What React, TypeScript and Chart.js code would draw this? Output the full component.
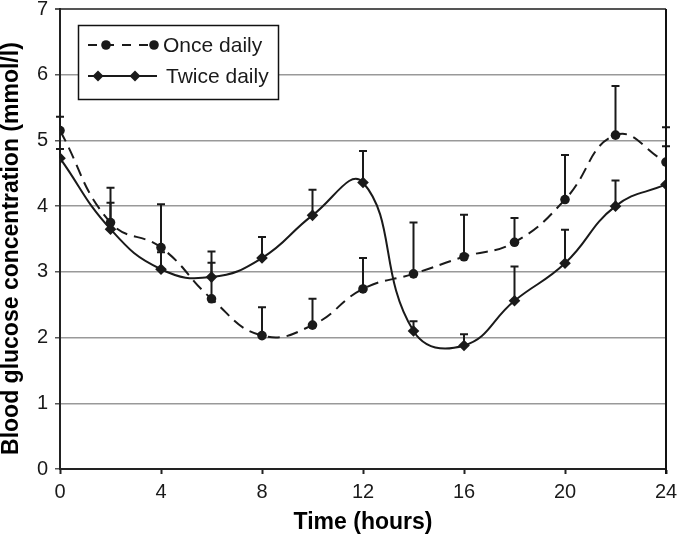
import { useEffect, useRef } from "react";
import { Chart, registerables } from "chart.js";

Chart.register(...registerables);

// Time points (hours)
const hours = [0, 2, 4, 6, 8, 10, 12, 14, 16, 18, 20, 22, 24];
// Once daily: mean and SD (upward error bars)
const onceMean = [5.15, 3.75, 3.37, 2.59, 2.03, 2.19, 2.74, 2.97, 3.23, 3.45, 4.1, 5.08, 4.67];
const onceSD = [0.21, 0.53, 0.66, 0.72, 0.43, 0.4, 0.47, 0.78, 0.64, 0.37, 0.68, 0.75, 0.53];
// Twice daily: mean and SD
const twiceMean = [4.73, 3.65, 3.04, 2.92, 3.21, 3.86, 4.36, 2.1, 1.88, 2.56, 3.13, 4.0, 4.33];
const twiceSD = [0.14, 0.4, 0.26, 0.22, 0.32, 0.39, 0.48, 0.15, 0.17, 0.52, 0.51, 0.39, 0.58];

const seriesNames = ["Once daily", "Twice daily"];
const xTitle = "Time (hours)";
const yTitle = "Blood glucose concentration (mmol/l)";

const FONT = "'Liberation Sans', Arial, sans-serif";
const INK = "#1a1a1a";

export default function App() {
  const ref = useRef<HTMLCanvasElement>(null);

  useEffect(() => {
    document.body.style.margin = "0";
    const canvas = ref.current;
    if (!canvas) return;

    const errorBars = {
      id: "errorBars",
      beforeDatasetsDraw(chart: any) {
        const { ctx, scales } = chart;
        const x = scales.x;
        const y = scales.y;
        ctx.save();
        ctx.strokeStyle = INK;
        ctx.lineWidth = 2;
        ctx.setLineDash([]);
        const sets: [number[], number[]][] = [
          [onceMean, onceSD],
          [twiceMean, twiceSD],
        ];
        sets.forEach(([means, sds]) => {
          means.forEach((m, i) => {
            const px = x.getPixelForValue(hours[i]);
            const p0 = y.getPixelForValue(m);
            const p1 = y.getPixelForValue(m + sds[i]);
            ctx.beginPath();
            ctx.moveTo(px, p0);
            ctx.lineTo(px, p1);
            ctx.moveTo(px - 4, p1);
            ctx.lineTo(px + 4, p1);
            ctx.stroke();
          });
        });
        ctx.restore();
      },
    };

    const frame = {
      id: "frame",
      afterDatasetsDraw(chart: any) {
        const { ctx, chartArea: a } = chart;
        ctx.save();
        ctx.setLineDash([]);
        ctx.strokeStyle = "#111";
        ctx.lineWidth = 2;
        ctx.beginPath();
        ctx.moveTo(a.right, a.top);
        ctx.lineTo(a.right, a.bottom + 5);
        ctx.stroke();
        ctx.restore();
      },
    };

    const legendBox = {
      id: "legendBox",
      afterDraw(chart: any) {
        const { ctx, chartArea: a } = chart;
        const L = a.left;
        const T = a.top;
        ctx.save();
        ctx.fillStyle = "#fff";
        ctx.fillRect(L + 18, T + 16, 200, 74);
        ctx.strokeStyle = "#111";
        ctx.lineWidth = 1.5;
        ctx.strokeRect(L + 18.5, T + 16.5, 200, 74);

        ctx.strokeStyle = INK;
        ctx.fillStyle = INK;
        ctx.lineWidth = 2;
        // Once daily
        const y1 = T + 36;
        ctx.setLineDash([9, 8]);
        ctx.beginPath();
        ctx.moveTo(L + 28, y1);
        ctx.lineTo(L + 97, y1);
        ctx.stroke();
        ctx.setLineDash([]);
        [L + 46, L + 94].forEach((cx) => {
          ctx.beginPath();
          ctx.arc(cx, y1, 4.8, 0, Math.PI * 2);
          ctx.fill();
        });
        // Twice daily
        const y2 = T + 67;
        ctx.beginPath();
        ctx.moveTo(L + 28, y2);
        ctx.lineTo(L + 97, y2);
        ctx.stroke();
        [L + 38, L + 75].forEach((cx) => {
          ctx.beginPath();
          ctx.moveTo(cx, y2 - 5.5);
          ctx.lineTo(cx + 5.5, y2);
          ctx.lineTo(cx, y2 + 5.5);
          ctx.lineTo(cx - 5.5, y2);
          ctx.closePath();
          ctx.fill();
        });

        ctx.font = `21px ${FONT}`;
        ctx.textBaseline = "middle";
        ctx.textAlign = "left";
        ctx.fillText(seriesNames[0], L + 103, y1 + 1);
        ctx.fillText(seriesNames[1], L + 106, y2 + 1);
        ctx.restore();
      },
    };

    const chart = new Chart(canvas, {
      type: "line",
      data: {
        datasets: [
          {
            label: seriesNames[0],
            data: hours.map((h, i) => ({ x: h, y: onceMean[i] })),
            borderColor: INK,
            backgroundColor: INK,
            borderWidth: 2,
            borderDash: [12, 7],
            tension: 0.45,
            pointStyle: "circle",
            pointRadius: 4.8,
            pointBorderWidth: 0,
            pointBackgroundColor: INK,
            fill: false,
          },
          {
            label: seriesNames[1],
            data: hours.map((h, i) => ({ x: h, y: twiceMean[i] })),
            borderColor: INK,
            backgroundColor: INK,
            borderWidth: 2,
            tension: 0.45,
            pointStyle: "rectRot",
            pointRadius: 5.8,
            pointBorderWidth: 0,
            pointBackgroundColor: INK,
            fill: false,
          },
        ],
      },
      options: {
        animation: false,
        responsive: false,
        devicePixelRatio: 1,
        layout: { padding: { left: 0, right: 11, top: 9, bottom: 0 } },
        plugins: {
          legend: { display: false },
          tooltip: { enabled: false },
          title: { display: false },
        },
        scales: {
          x: {
            type: "linear",
            min: 0,
            max: 24,
            ticks: {
              stepSize: 4,
              autoSkip: false,
              maxRotation: 0,
              padding: 6,
              color: INK,
              font: { family: FONT, size: 20 },
            },
            grid: {
              drawOnChartArea: false,
              drawTicks: true,
              tickLength: 5,
              tickColor: "#222",
              tickWidth: 2,
            },
            border: { color: "#222", width: 2 },
            title: {
              display: true,
              text: xTitle,
              color: "#000",
              font: { family: FONT, size: 23, weight: "bold", lineHeight: 1.2 },
              padding: { top: 0, bottom: 3 },
            },
            afterFit(scale: any) {
              scale.height = 70;
              scale.paddingRight = 0;
              scale.paddingLeft = 0;
            },
          },
          y: {
            type: "linear",
            min: 0,
            max: 7,
            ticks: {
              stepSize: 1,
              padding: 7,
              color: INK,
              font: { family: FONT, size: 20 },
            },
            grid: {
              color: (c: any) => (c.tick && c.tick.value === 7 ? "#555" : "#999"),
              lineWidth: (c: any) => (c.tick && c.tick.value === 7 ? 2 : 1.5),
              drawTicks: true,
              tickLength: 5,
              tickColor: "#555",
            },
            border: { color: "#222", width: 2 },
            title: {
              display: true,
              text: yTitle + "   ",
              color: "#000",
              font: { family: FONT, size: 23, weight: "bold", lineHeight: 1.05 },
              padding: { top: 0, bottom: 0 },
            },
            afterFit(scale: any) {
              scale.width = 60;
              scale.paddingTop = 0;
              scale.paddingBottom = 0;
            },
          },
        },
      },
      plugins: [errorBars, frame, legendBox],
    } as any);

    return () => chart.destroy();
  }, []);

  return (
    <div style={{ position: "absolute", left: 0, top: 0, width: 677, height: 539, background: "#fff" }}>
      <canvas ref={ref} width={677} height={539} style={{ display: "block" }} />
    </div>
  );
}
